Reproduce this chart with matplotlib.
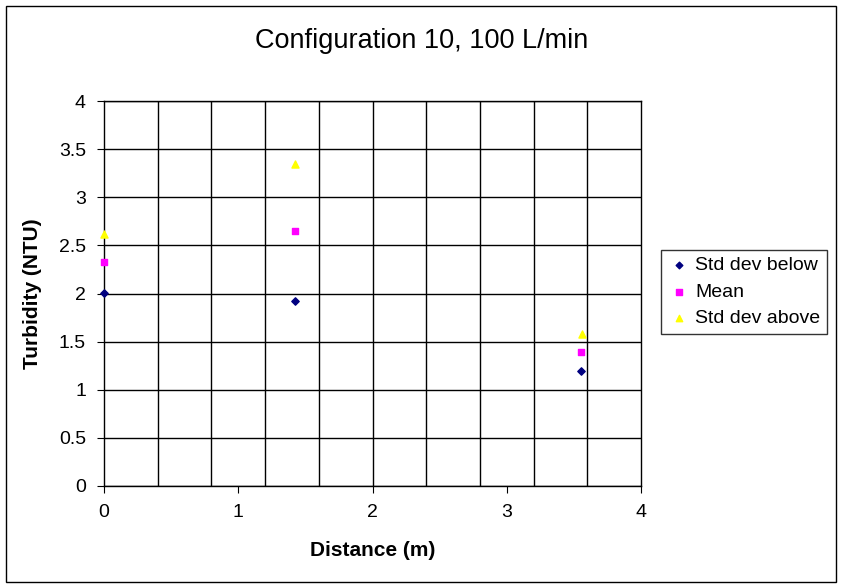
import numpy as np
import matplotlib.pyplot as plt
from matplotlib.patches import Rectangle

# data
distance = [0.0, 1.42, 3.55]
std_below = [2.01, 1.92, 1.19]
mean_vals = [2.33, 2.65, 1.39]
dist_above = [0.0, 1.42, 3.56]
std_above = [2.62, 3.35, 1.58]

plt.rcParams['font.family'] = ['Liberation Sans', 'DejaVu Sans']

fig = plt.figure(figsize=(8.43, 5.88), dpi=100)
ax = fig.add_axes([104/843, 1-486/588, 537/843, 385/588])

ax.scatter(distance, std_below, marker='D', s=14, color='#000080', label='Std dev below', zorder=3, clip_on=False)
ax.scatter(distance, mean_vals, marker='s', s=22, color='#FF00FF', label='Mean', zorder=3, clip_on=False)
ax.scatter(dist_above, std_above, marker='^', s=26, color='#FFFF00', label='Std dev above', zorder=3, clip_on=False)

ax.set_xlim(0, 4)
ax.set_ylim(0, 4)
ax.set_xticks([0, 1, 2, 3, 4])
ax.set_yticks(np.arange(0, 4.01, 0.5))
ax.set_yticklabels(['0', '0.5', '1', '1.5', '2', '2.5', '3', '3.5', '4'])
ax.tick_params(axis='both', which='major', direction='out', length=5, labelsize=14, pad=8, color='black')
# vertical grid every 0.4, horizontal every 0.5
for gx in np.arange(0.4, 3.99, 0.4):
    ax.axvline(gx, color='black', linewidth=1, zorder=1)
ax.grid(True, axis='y', which='major', color='black', linewidth=1)
for s in ax.spines.values():
    s.set_linewidth(1)

ax.set_xlabel('Distance (m)', fontsize=15, fontweight='bold', labelpad=14)
ax.set_ylabel('Turbidity (NTU)', fontsize=15, fontweight='bold', labelpad=12)
fig.text(0.5, 1-41/588, 'Configuration 10, 100 L/min', ha='center', va='center', fontsize=19.5)

leg = ax.legend(loc='center left', bbox_to_anchor=(557/537, 0.5 + 0.004), fontsize=14,
                frameon=True, fancybox=False, edgecolor='black', handletextpad=0.2,
                borderpad=0.35, labelspacing=0.45, handlelength=1.2, markerscale=0.9,
                borderaxespad=0)
leg.get_frame().set_linewidth(1)

fig.patches.append(Rectangle((6/843, 6/588), 830/843, 576/588, transform=fig.transFigure,
                             fill=False, edgecolor='black', linewidth=1))

fig.savefig('out.png', dpi=100)
